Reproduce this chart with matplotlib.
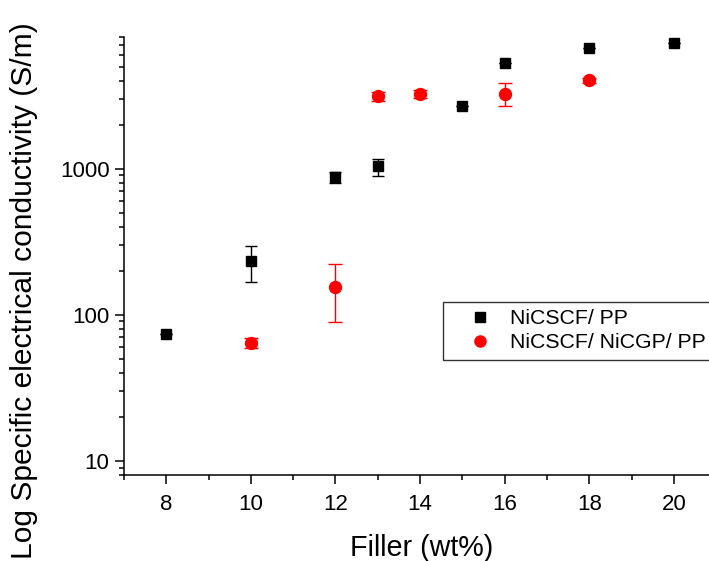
import matplotlib
matplotlib.use('Agg')
import matplotlib.pyplot as plt
from matplotlib.lines import Line2D
from matplotlib.ticker import LogLocator, FixedLocator, FuncFormatter, NullFormatter

plt.rcParams['font.family'] = ['Liberation Sans', 'DejaVu Sans']

# NiCSCF/ PP
pp_x = [8, 10, 12, 13, 15, 16, 18, 20]
pp_y = [74, 232, 870, 1037, 2700, 5270, 6680, 7290]
pp_lo = [74, 168, 800, 896, 2700, 5270, 6680, 7290]
pp_hi = [74, 294, 950, 1171, 2700, 5270, 6680, 7290]

# NiCSCF/ NiCGP/ PP
gp_x = [10, 12, 13, 14, 16, 18]
gp_y = [64, 156, 3120, 3260, 3260, 4020]
gp_lo = [59, 89, 2890, 3040, 2667, 3860]
gp_hi = [69, 222, 3370, 3470, 3855, 4200]

x_ticks = [8, 10, 12, 14, 16, 18, 20]
y_ticks = [10, 100, 1000]
labels = ['NiCSCF/ PP', 'NiCSCF/ NiCGP/ PP']


def err(y, lo, hi):
    return [[v - l for v, l in zip(y, lo)], [h - v for v, h in zip(y, hi)]]


fig = plt.figure(figsize=(7.09, 5.61), dpi=100)
ax = fig.add_axes([124 / 709, 1 - 475 / 561, 1 - 124 / 709, (475 - 36.7) / 561])

ax.errorbar(pp_x, pp_y, yerr=err(pp_y, pp_lo, pp_hi), fmt='s', color='black', ms=7.3,
            ecolor='black', elinewidth=1, capsize=4, capthick=1, zorder=3)
ax.errorbar(gp_x, gp_y, yerr=err(gp_y, gp_lo, gp_hi), fmt='o', color='red', ms=8.6,
            ecolor='red', elinewidth=1, capsize=5, capthick=1, zorder=3)

ax.set_yscale('log')
ax.set_xlim(7, 7 + (709 - 124) / 42.3)
ax.set_ylim(8, 8000)

ax.xaxis.set_major_locator(FixedLocator(x_ticks))
ax.xaxis.set_minor_locator(FixedLocator([7, 9, 11, 13, 15, 17, 19]))
ax.yaxis.set_major_locator(FixedLocator(y_ticks))
ax.yaxis.set_minor_locator(LogLocator(base=10, subs=range(2, 10)))
ax.yaxis.set_major_formatter(FuncFormatter(lambda v, p: '%d' % v))
ax.yaxis.set_minor_formatter(NullFormatter())

ax.spines['top'].set_visible(False)
ax.spines['right'].set_visible(False)
for s in ('left', 'bottom'):
    ax.spines[s].set_linewidth(1.1)

ax.tick_params(which='major', direction='out', length=6.5, width=1.1, labelsize=16)
ax.tick_params(axis='x', which='major', pad=7)
ax.tick_params(axis='y', which='major', pad=4)
ax.tick_params(which='minor', direction='out', length=3.6, width=1.1)

ax.set_xlabel('Filler (wt%)', fontsize=20.7)
ax.xaxis.set_label_coords(0.509, -0.135)
ax.set_ylabel('Log Specific electrical conductivity (S/m)', fontsize=21.6)
ax.yaxis.set_label_coords(-0.147, 0.42)

handles = [Line2D([], [], ls='none', marker='s', color='black', ms=6.5),
           Line2D([], [], ls='none', marker='o', color='red', ms=8)]
leg = fig.legend(handles, labels, loc='upper left', bbox_to_anchor=(443 / 709, 1 - 301.7 / 561),
                 fontsize=15.3, frameon=True, fancybox=False, edgecolor='black',
                 handletextpad=0.0, borderpad=0.35, labelspacing=0.24, handlelength=2.8,
                 borderaxespad=0)
leg.get_frame().set_linewidth(1.0)

fig.savefig('out.png', dpi=100)
